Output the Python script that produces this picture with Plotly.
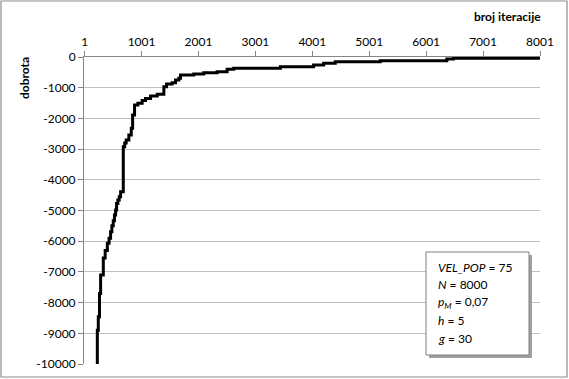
import plotly.graph_objects as go

# data
iteracije = [224, 224, 241, 262, 282, 329, 362, 400, 430, 457, 480, 504, 525, 545, 562, 585, 609, 633, 680, 680,
             705, 731, 778, 820, 844, 844, 878, 878, 936, 1012, 1071, 1159, 1276, 1393, 1393, 1440, 1539, 1598,
             1656, 1685, 1919, 2094, 2329, 2504, 2620, 3090, 3440, 4024, 4200, 4404, 5194, 6364, 6480, 8000]
dobrota = [-10000, -8900, -8460, -7700, -7100, -6550, -6300, -6070, -5900, -5690, -5500, -5330, -5150, -4980,
           -4770, -4660, -4550, -4390, -4330, -2920, -2800, -2700, -2540, -2320, -2250, -1890, -1780, -1560,
           -1510, -1420, -1350, -1270, -1210, -1180, -967, -880, -836, -750, -695, -586, -554, -510, -478,
           -400, -370, -370, -315, -260, -206, -152, -120, -65, -43, -43]
x_ticks = [1, 1001, 2001, 3001, 4001, 5001, 6001, 7001, 8001]
y_ticks = list(range(-10000, 1, 1000))
y_ticktext = [str(v) for v in y_ticks]
box_lines = ["<i>VEL_POP</i> = 75", "<i>N</i> = 8000", "<i>p</i><sub><i>M</i></sub> = 0,07", "<i>h</i> = 5", "<i>g</i> = 30"]

FONT = "Lato"
L, R, T, B = 84, 540, 57, 364
W, H = R - L, B - T


def px(xp):
    return (xp - L) / W


def py(yp):
    return (B - yp) / H


fig = go.Figure()
fig.add_trace(go.Scatter(x=iteracije, y=dobrota, mode="lines", line=dict(color="black", width=3, shape="hv"),
                         showlegend=False, hoverinfo="skip"))

fig.update_layout(
    width=569, height=379,
    margin=dict(l=L, r=569 - R, t=T, b=379 - B),
    paper_bgcolor="white", plot_bgcolor="white",
    font=dict(family=FONT, size=12, color="black"),
    xaxis=dict(range=[-10, 8001.001], side="top", tickvals=x_ticks, ticktext=[str(v) for v in x_ticks],
               ticks="outside", ticklen=5, tickcolor="#868686", showline=True, linecolor="#868686",
               linewidth=1, showgrid=False, zeroline=False, tickfont=dict(size=12), automargin=False),
    yaxis=dict(range=[-10000, 0], tickvals=y_ticks, ticktext=y_ticktext, ticks="outside", ticklen=5,
               tickcolor="#868686", showline=True, linecolor="#868686", linewidth=1, showgrid=True,
               gridcolor="#c0c0c0", gridwidth=1, zeroline=False, tickfont=dict(size=12), automargin=False),
)

shapes = []
# outer border
shapes.append(dict(type="rect", xref="paper", yref="paper", x0=px(1), x1=px(567), y0=py(377), y1=py(1),
                   line=dict(color="#8c8c8c", width=1.2), fillcolor="rgba(0,0,0,0)", layer="above"))
# text box shadow + box
shapes.append(dict(type="rect", xref="paper", yref="paper", x0=px(429), x1=px(532), y0=py(358), y1=py(255),
                   line=dict(width=0), fillcolor="#a0a0a0", layer="above"))
shapes.append(dict(type="rect", xref="paper", yref="paper", x0=px(426), x1=px(529), y0=py(355), y1=py(252),
                   line=dict(color="#7f7f7f", width=1), fillcolor="white", layer="above"))
fig.update_layout(shapes=shapes)

ann = [
    dict(text="<b>broj iteracije</b>", x=px(507), y=py(17), xref="paper", yref="paper", showarrow=False,
         xanchor="center", yanchor="middle", font=dict(size=12)),
    dict(text="<b>dobrota</b>", x=px(24), y=py(78), xref="paper", yref="paper", showarrow=False,
         xanchor="center", yanchor="middle", textangle=-90, font=dict(size=12)),
]
ys = [267, 284, 302, 320, 338]
for t, yy in zip(box_lines, ys):
    ann.append(dict(text=t, x=px(436), y=py(yy), xref="paper", yref="paper", showarrow=False,
                    xanchor="left", yanchor="middle", font=dict(size=12)))
fig.update_layout(annotations=ann)

fig.write_html("out.html", config={"displayModeBar": False},
               post_script="document.body.style.margin='0px';")
